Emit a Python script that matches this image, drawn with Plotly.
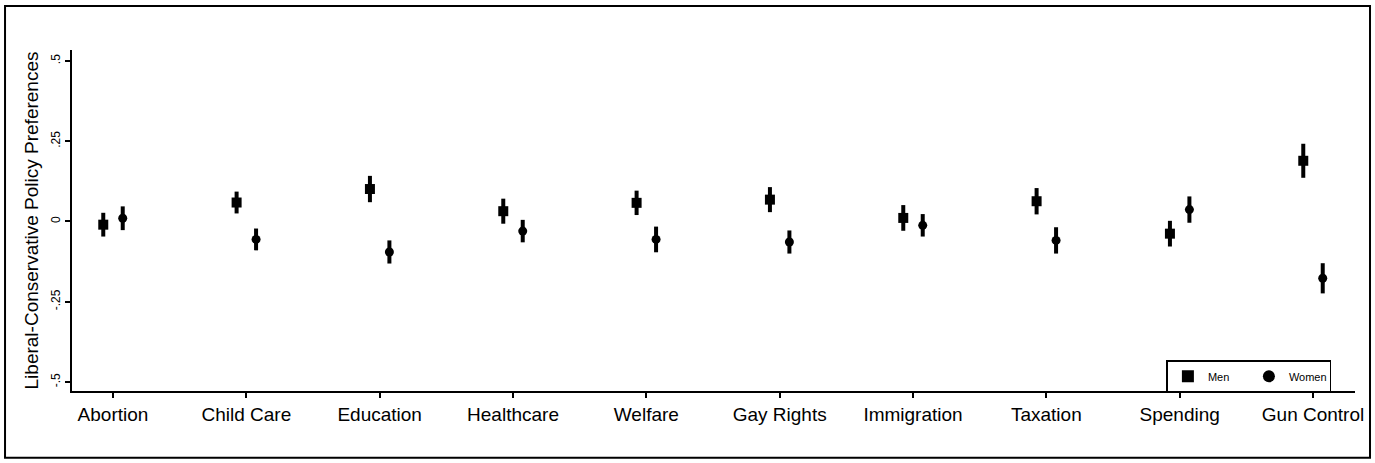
import plotly.graph_objects as go

categories = ["Abortion", "Child Care", "Education", "Healthcare", "Welfare",
              "Gay Rights", "Immigration", "Taxation", "Spending", "Gun Control"]
men_est = [-0.010, 0.059, 0.101, 0.032, 0.058, 0.068, 0.011, 0.063, -0.038, 0.189]
men_ci = [0.037, 0.034, 0.041, 0.039, 0.038, 0.039, 0.040, 0.041, 0.040, 0.053]
women_est = [0.010, -0.056, -0.095, -0.030, -0.056, -0.064, -0.012, -0.059, 0.037, -0.177]
women_ci = [0.037, 0.034, 0.036, 0.035, 0.040, 0.036, 0.035, 0.041, 0.041, 0.047]
ytick_vals = [-0.5, -0.25, 0, 0.25, 0.5]
ytick_text = ["-.5", "-.25", "0", ".25", ".5"]

pos = list(range(1, len(categories) + 1))
off = 0.073

fig = go.Figure()
fig.add_trace(go.Scatter(
    x=[p - off for p in pos], y=men_est, mode="markers", name="Men",
    marker=dict(symbol="square", size=10, color="black"),
    error_y=dict(type="data", array=men_ci, visible=True, thickness=4, width=0, color="black"),
))
fig.add_trace(go.Scatter(
    x=[p + off for p in pos], y=women_est, mode="markers", name="Women",
    marker=dict(symbol="circle", size=9, color="black"),
    error_y=dict(type="data", array=women_ci, visible=True, thickness=4, width=0, color="black"),
))

fig.update_layout(
    width=1375, height=463,
    margin=dict(l=72, r=20, t=50, b=72),
    paper_bgcolor="white", plot_bgcolor="white",
    font=dict(family="Liberation Sans, Arial, sans-serif", color="black"),
    showlegend=True,
    legend=dict(
        orientation="h", x=0.853, y=0.09, xanchor="left", yanchor="top",
        bordercolor="black", borderwidth=1.5, bgcolor="white",
        font=dict(size=11), entrywidth=36, entrywidthmode="pixels",
        itemsizing="constant",
    ),
    xaxis=dict(
        range=[0.6925, 10.315], tickvals=pos, ticktext=categories,
        showline=True, linecolor="black", linewidth=2, showgrid=False, zeroline=False,
        ticks="outside", ticklen=5, tickwidth=1.5, tickcolor="black",
        tickfont=dict(size=19),
    ),
    yaxis=dict(
        range=[-0.528, 0.534], tickvals=ytick_vals, ticktext=ytick_text,
        showline=True, linecolor="black", linewidth=2, showgrid=False, zeroline=False,
        ticks="outside", ticklen=5, tickwidth=1.5, tickcolor="black",
        tickangle=-90, tickfont=dict(size=12),
        title=dict(text="Liberal-Conservative Policy Preferences", font=dict(size=19), standoff=6),
    ),
)

fig.add_shape(type="rect", xref="paper", yref="paper",
              x0=-0.0522, x1=1.0117, y0=-0.196, y1=1.129,
              line=dict(color="black", width=2), fillcolor="rgba(0,0,0,0)", layer="below")

fig.write_html("out.html", config={"displayModeBar": False},
               post_script="document.body.style.margin='0';document.body.style.overflow='hidden';")
